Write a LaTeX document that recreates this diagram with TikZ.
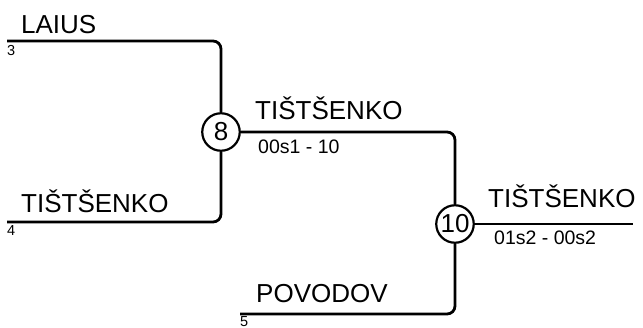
\documentclass[tikz,border=0pt]{standalone}
\usepackage{fontspec}
\setmainfont{Liberation Sans}
\begin{document}
\begin{tikzpicture}[x=1pt,y=-1pt,
  wire/.style={line width=2.8pt,rounded corners=8pt},
  circ/.style={circle,draw,line width=2.2pt,minimum size=37.5pt,inner sep=0pt,font=\fontsize{26}{26}\selectfont},
  big/.style={anchor=base west,inner sep=0pt,font=\fontsize{26}{26}\selectfont},
  small/.style={anchor=base west,inner sep=0pt,font=\fontsize{19.5}{20}\selectfont},
  seed/.style={anchor=base west,inner sep=0pt,font=\fontsize{14.5}{14.5}\selectfont}]
\useasboundingbox (0,0) rectangle (643,327);
\coordinate (s3) at (7,41);
\coordinate (s4) at (7,222);
\coordinate (s5) at (240,314);
\coordinate (out) at (633,224);
\node[circ] (j8) at (221,132) {8};
\node[circ] (j10) at (455,224) {10};
\draw[wire] (s3) -- (s3 -| j8) -- (j8);
\draw[wire] (s4) -- (s4 -| j8) -- (j8);
\draw[wire] (j8) -- (j8 -| j10) -- (j10);
\draw[wire] (s5) -- (s5 -| j10) -- (j10);
\draw[wire] (j10) -- (out);
\node[big] (n3) at (21,33) {LAIUS};
\node[seed] (l3) at (7,55.5) {3};
\node[big] (n4) at (21,212) {TIŠTŠENKO};
\node[seed] (l4) at (7,235.5) {4};
\node[big] (n8) at (255,119) {TIŠTŠENKO};
\node[small] (r8) at (258,153) {00s1 - 10};
\node[big] (n10) at (488,207) {TIŠTŠENKO};
\node[small] (r10) at (494,244) {01s2 - 00s2};
\node[big] (n5) at (256,302.5) {POVODOV};
\node[seed] (l5) at (240,326) {5};
\end{tikzpicture}
\end{document}
